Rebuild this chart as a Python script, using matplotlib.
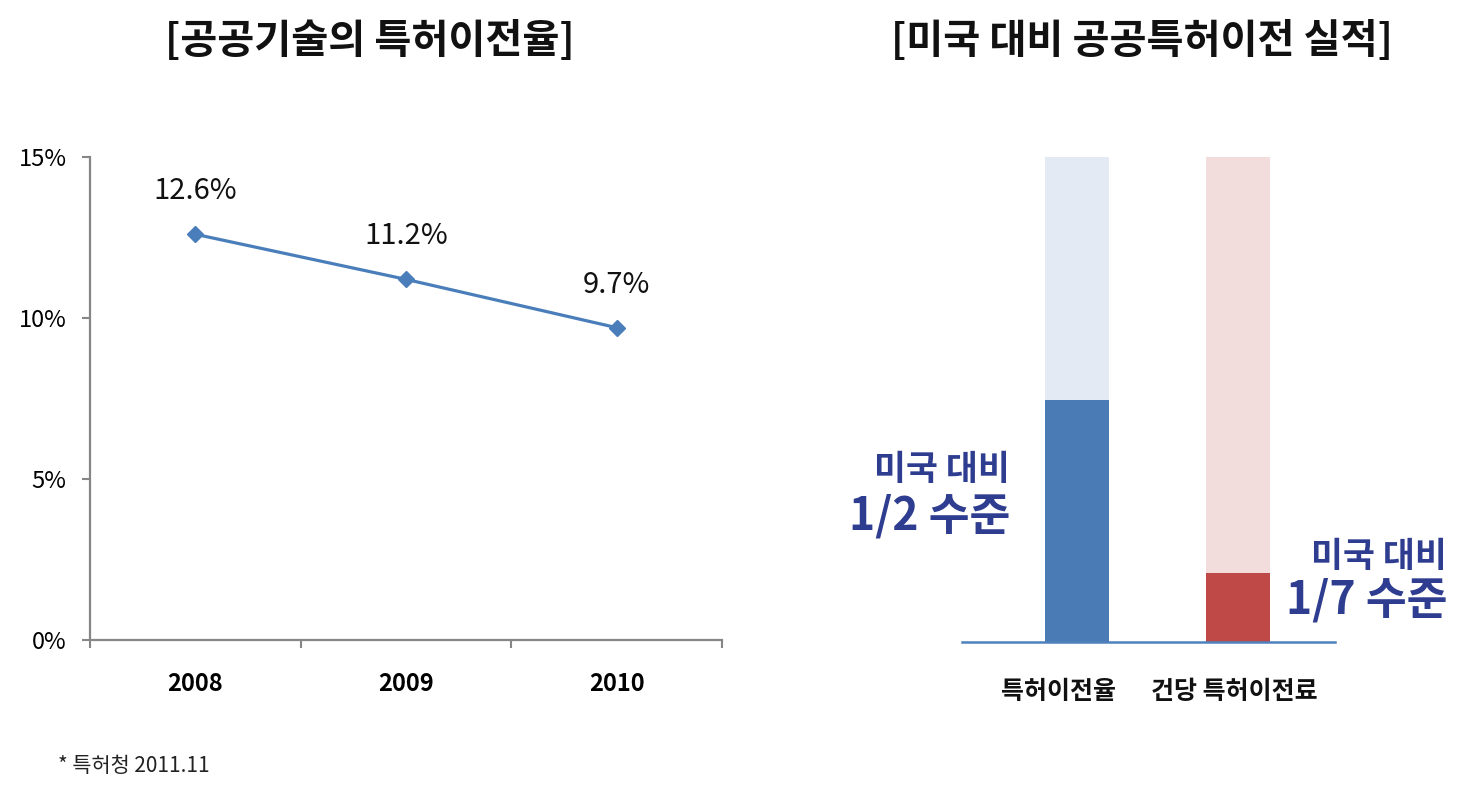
import matplotlib
matplotlib.use("Agg")
import matplotlib.pyplot as plt
from matplotlib.ticker import FixedLocator, NullFormatter

plt.rcParams['font.family'] = ['Noto Sans CJK KR', 'DejaVu Sans']

# ---- data ----
years = ['2008', '2009', '2010']
transfer_rate = [12.6, 11.2, 9.7]
rate_labels = ['12.6%', '11.2%', '9.7%']
y_ticks = [0, 5, 10, 15]
y_tick_labels = ['0%', '5%', '10%', '15%']

bar_categories = ['특허이전율', '건당 특허이전료']
us_level = [100, 100]
korea_level = [50, 14.3]
bar_notes = [('미국 대비', '1/2 수준'), ('미국 대비', '1/7 수준')]

W, H = 1477, 786
fig = plt.figure(figsize=(W / 100, H / 100), dpi=100)

def fx(px):
    return px / W

def fy(py):
    return 1 - py / H

# ---- left line chart ----
ax = fig.add_axes([fx(90), fy(640), fx(722) - fx(90), fy(157) - fy(640)])
x = list(range(len(years)))
ax.plot(x, transfer_rate, color='#4A7EBB', lw=2.3, marker='D', ms=8,
        mfc='#4A7EBB', mec='#4A7EBB', zorder=3)
for xi, v, lab in zip(x, transfer_rate, rate_labels):
    ax.annotate(lab, (xi, v), xytext=(0, 31), textcoords='offset points',
                ha='center', va='center', fontsize=21, color='#111111')
ax.set_xlim(-0.5, 2.5)
ax.set_ylim(0, 15)
ax.set_yticks(y_ticks)
ax.set_yticklabels(y_tick_labels, fontsize=17)
ax.set_xticks(x)
ax.set_xticklabels(years, fontsize=17, fontweight='bold')
ax.xaxis.set_minor_locator(FixedLocator([-0.5, 0.5, 1.5, 2.5]))
ax.xaxis.set_minor_formatter(NullFormatter())
ax.tick_params(axis='x', which='major', length=0, pad=23)
ax.tick_params(axis='x', which='minor', length=6, width=1.5, color='#868686', direction='out')
ax.tick_params(axis='y', length=6, width=1.5, color='#868686', direction='out', pad=11)
for s in ['top', 'right']:
    ax.spines[s].set_visible(False)
for s in ['left', 'bottom']:
    ax.spines[s].set_color('#868686')
    ax.spines[s].set_linewidth(1.6)

# ---- right bar chart ----
ax2 = fig.add_axes([fx(962), fy(642), fx(1335) - fx(962), fy(157) - fy(642)])
bx = [0, 1]
ax2.bar(bx, us_level, width=0.4, color=['#E4EAF4', '#F2DDDC'], zorder=1)
ax2.bar(bx, korea_level, width=0.4, color=['#4B7BB4', '#BE4946'], zorder=2)
ax2.set_xlim(-0.714, 1.602)
ax2.set_ylim(0, 100)
ax2.set_yticks([])
ax2.set_xticks([])
label_shift = [-0.115, -0.025]
for xi, lab, dx in zip(bx, bar_categories, label_shift):
    ax2.text(xi + dx, -10.4, lab, ha='center', va='center', fontsize=18,
             fontweight='bold', color='#111111', clip_on=False)
for s in ['top', 'right', 'left']:
    ax2.spines[s].set_visible(False)
ax2.spines['bottom'].set_color('#4F81BD')
ax2.spines['bottom'].set_linewidth(1.8)

navy = '#2E3D8F'
note_pos = [((1010, 470), (1010, 517)), ((1447, 556), (1447, 601))]
for (l1, l2), ((x1, y1), (x2, y2)) in zip(bar_notes, note_pos):
    fig.text(fx(x1), fy(y1), l1, ha='right', va='center', fontsize=25,
             fontweight='bold', color=navy)
    fig.text(fx(x2), fy(y2), l2, ha='right', va='center', fontsize=32,
             fontweight='bold', color=navy)

# ---- titles and footnote ----
fig.text(fx(370), fy(42), '[공공기술의 특허이전율]', ha='center', va='center',
         fontsize=29, fontweight='bold', color='#111111')
fig.text(fx(1142), fy(42), '[미국 대비 공공특허이전 실적]', ha='center', va='center',
         fontsize=29, fontweight='bold', color='#111111')
fig.text(fx(58), fy(766), '* 특허청 2011.11', ha='left', va='center',
         fontsize=15, color='#222222')

fig.savefig('out.png', dpi=100)
